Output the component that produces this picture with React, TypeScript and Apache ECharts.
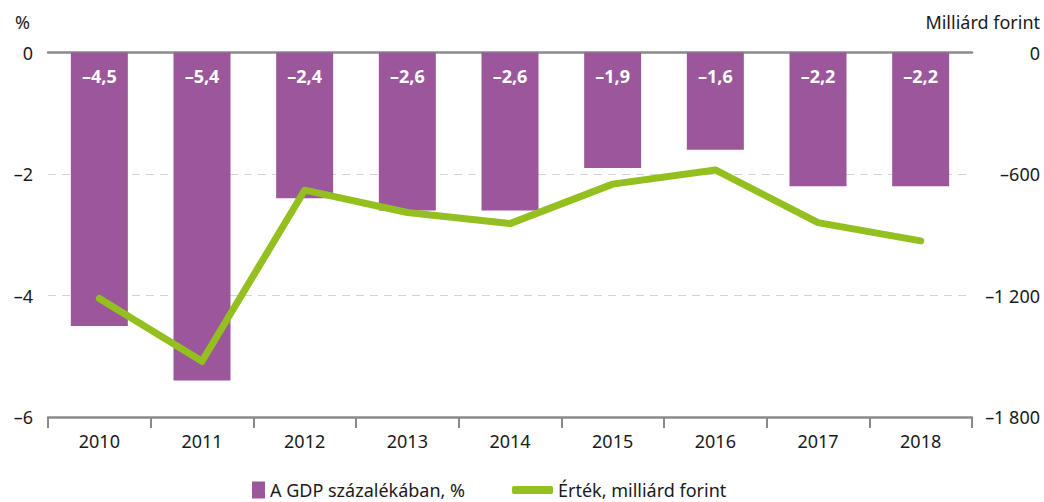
import React, { useEffect, useRef } from "react";
import * as echarts from "echarts";

const years = ["2010", "2011", "2012", "2013", "2014", "2015", "2016", "2017", "2018"];
const gdpPct = [-4.5, -5.4, -2.4, -2.6, -2.6, -1.9, -1.6, -2.2, -2.2];
const valueBn = [-1215, -1525, -680, -790, -845, -650, -580, -840, -930];
const barName = "A GDP százalékában, %";
const lineName = "Érték, milliárd forint";

const FONT = "Noto Sans";
const BAR_COLOR = "#9c579a";
const LINE_COLOR = "#93c01f";
const AXIS_GRAY = "#8a8a8a";

const fmtPct = (v: number) => (v === 0 ? "0" : "–" + String(Math.abs(v)).replace(".", ","));
const fmtBn = (v: number) =>
  v === 0 ? "0" : "–" + String(Math.abs(v)).replace(/\B(?=(\d{3})+(?!\d))/g, " ");

export default function App() {
  const ref = useRef<HTMLDivElement>(null);
  useEffect(() => {
    if (!ref.current) return;
    const chart = echarts.init(ref.current, null, { renderer: "svg" });
    chart.setOption({
      animation: false,
      textStyle: { fontFamily: FONT, color: "#1a1a1a" },
      grid: { left: 48, right: 72, top: 52.5, height: 364.5 },
      graphic: [
        { type: "text", left: 15, top: 13, style: { text: "%", font: `18px "${FONT}"`, fill: "#1a1a1a" } },
        { type: "text", right: 4, top: 13, style: { text: "Milliárd forint", font: `18px "${FONT}"`, fill: "#1a1a1a" } },
      ],
      legend: [
        {
          left: 252,
          top: 481,
          padding: 0,
          data: [{ name: barName, icon: "rect" }],
          itemWidth: 13,
          itemHeight: 17,
          itemGap: 8,
          textStyle: { fontFamily: FONT, fontSize: 18, color: "#1a1a1a" },
        },
        {
          left: 512,
          top: 481,
          padding: 0,
          data: [{ name: lineName, icon: "roundRect" }],
          itemWidth: 41,
          itemHeight: 8,
          textStyle: { fontFamily: FONT, fontSize: 18, color: "#1a1a1a" },
        },
      ],
      xAxis: [
        {
          type: "category",
          data: years,
          position: "bottom",
          axisLine: { onZero: false, lineStyle: { color: AXIS_GRAY, width: 2.5 } },
          axisTick: { show: true, length: 11, lineStyle: { color: AXIS_GRAY, width: 2 } },
          axisLabel: { fontFamily: FONT, fontSize: 18, color: "#1a1a1a", margin: 15 },
        },
        {
          type: "category",
          data: years,
          position: "top",
          axisLine: { onZero: false, lineStyle: { color: AXIS_GRAY, width: 2.5 } },
          axisTick: { show: false },
          axisLabel: { show: false },
        },
      ],
      yAxis: [
        {
          type: "value",
          min: -6,
          max: 0,
          interval: 2,
          axisLine: { show: false },
          axisTick: { show: false },
          axisLabel: { fontFamily: FONT, fontSize: 18, color: "#1a1a1a", margin: 15, formatter: fmtPct },
          splitLine: { lineStyle: { color: "#d4d4d4", type: [8, 6], width: 1 } },
        },
        {
          type: "value",
          min: -1800,
          max: 0,
          interval: 600,
          position: "right",
          axisLine: { show: false },
          axisTick: { show: false },
          axisLabel: {
            fontFamily: FONT,
            fontSize: 18,
            color: "#1a1a1a",
            margin: 68,
            align: "right",
            formatter: fmtBn,
          },
          splitLine: { show: false },
        },
      ],
      series: [
        {
          name: barName,
          type: "bar",
          data: gdpPct,
          xAxisIndex: 0,
          yAxisIndex: 0,
          barWidth: 57,
          itemStyle: { color: BAR_COLOR },
          label: {
            show: true,
            position: "insideTop",
            distance: 14,
            color: "#ffffff",
            fontFamily: FONT,
            fontSize: 18,
            fontWeight: "bold",
            formatter: (p: any) => fmtPct(p.value),
          },
        },
        {
          name: lineName,
          type: "line",
          data: valueBn,
          xAxisIndex: 0,
          yAxisIndex: 1,
          symbol: "none",
          lineStyle: { color: LINE_COLOR, width: 7, cap: "round", join: "round" },
          itemStyle: { color: LINE_COLOR },
        },
      ],
    });
    return () => chart.dispose();
  }, []);
  return <div ref={ref} style={{ width: 1044, height: 502, position: "absolute", left: 0, top: 0 }} />;
}
